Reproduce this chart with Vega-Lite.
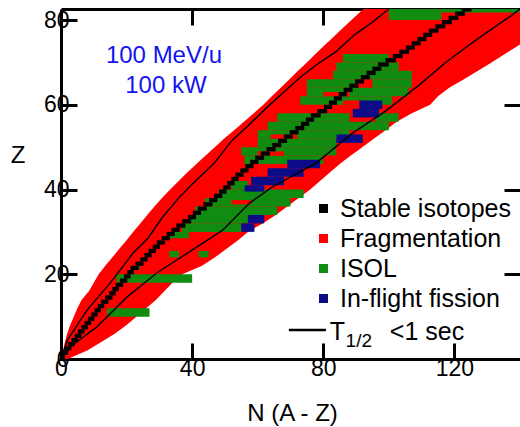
{
  "$schema": "https://vega.github.io/schema/vega-lite/v6.json",
  "width": 459,
  "height": 350,
  "autosize": "none",
  "padding": {"left": 61, "top": 9, "right": 0, "bottom": 68},
  "background": "white",
  "config": {
    "view": {"stroke": null},
    "font": "Liberation Sans",
    "axis": {
      "grid": false,
      "domainColor": "black",
      "domainWidth": 3,
      "tickColor": "black",
      "tickWidth": 3,
      "tickSize": -16,
      "labelFlush": false,
      "labelFont": "Liberation Sans",
      "labelFontSize": 23,
      "labelColor": "black",
      "titleFont": "Liberation Sans",
      "titleFontSize": 24,
      "titleFontWeight": "normal",
      "titleColor": "black"
    },
    "legend": {
      "labelFont": "Liberation Sans",
      "labelFontSize": 25,
      "labelColor": "black",
      "labelLimit": 400
    }
  },
  "resolve": {"axis": {"x": "independent", "y": "independent"}},
  "datasets": {
    "envelope": [
      {"z": 0, "nl": 0, "nr": 2},
      {"z": 2, "nl": 0.6, "nr": 8},
      {"z": 4, "nl": 1.2, "nr": 12.3},
      {"z": 6, "nl": 1.9, "nr": 16.5},
      {"z": 8, "nl": 2.8, "nr": 20},
      {"z": 10, "nl": 3.9, "nr": 23},
      {"z": 12, "nl": 5, "nr": 26},
      {"z": 14, "nl": 6.3, "nr": 29},
      {"z": 16, "nl": 8.5, "nr": 31.5},
      {"z": 18, "nl": 10, "nr": 34},
      {"z": 20, "nl": 11.5, "nr": 37},
      {"z": 22, "nl": 13.5, "nr": 43},
      {"z": 24, "nl": 15.7, "nr": 47},
      {"z": 26, "nl": 17.8, "nr": 50.5},
      {"z": 28, "nl": 20, "nr": 54},
      {"z": 30, "nl": 22, "nr": 57},
      {"z": 32, "nl": 24.2, "nr": 61.5},
      {"z": 34, "nl": 26.3, "nr": 65.5},
      {"z": 36, "nl": 28.5, "nr": 69},
      {"z": 38, "nl": 30.8, "nr": 72.5},
      {"z": 40, "nl": 33.3, "nr": 76},
      {"z": 42, "nl": 35.9, "nr": 79},
      {"z": 44, "nl": 38.5, "nr": 82},
      {"z": 46, "nl": 41.3, "nr": 85},
      {"z": 48, "nl": 44.1, "nr": 88.4},
      {"z": 50, "nl": 46.9, "nr": 91.9},
      {"z": 52, "nl": 49.7, "nr": 95.4},
      {"z": 54, "nl": 52.8, "nr": 99},
      {"z": 56, "nl": 55.8, "nr": 102.4},
      {"z": 58, "nl": 58.8, "nr": 107},
      {"z": 60, "nl": 61.7, "nr": 112.6},
      {"z": 62, "nl": 64.3, "nr": 115},
      {"z": 64, "nl": 67, "nr": 118.4},
      {"z": 66, "nl": 69.7, "nr": 122.9},
      {"z": 68, "nl": 72.3, "nr": 127.2},
      {"z": 70, "nl": 75, "nr": 131.3},
      {"z": 72, "nl": 77.6, "nr": 135.4},
      {"z": 74, "nl": 80.3, "nr": 139.5},
      {"z": 76, "nl": 83.1, "nr": 143.5},
      {"z": 78, "nl": 85.8, "nr": 147},
      {"z": 80, "nl": 88.6, "nr": 150},
      {"z": 82, "nl": 91.4, "nr": 153},
      {"z": 83, "nl": 92.8, "nr": 155}
    ],
    "cells": [
      {"z0": 10, "z1": 12, "n0": 14, "n1": 27, "kind": "ISOL"},
      {"z0": 18, "z1": 20, "n0": 17, "n1": 40, "kind": "ISOL"},
      {"z0": 21, "z1": 22, "n0": 22.5, "n1": 24, "kind": "ISOL"},
      {"z0": 24, "z1": 25.5, "n0": 33, "n1": 36, "kind": "ISOL"},
      {"z0": 24, "z1": 25.5, "n0": 42, "n1": 45, "kind": "ISOL"},
      {"z0": 28.5, "z1": 30, "n0": 33, "n1": 39, "kind": "ISOL"},
      {"z0": 30, "z1": 32, "n0": 37, "n1": 55, "kind": "ISOL"},
      {"z0": 32, "z1": 34, "n0": 39, "n1": 57, "kind": "ISOL"},
      {"z0": 34, "z1": 36, "n0": 41, "n1": 66, "kind": "ISOL"},
      {"z0": 36, "z1": 38, "n0": 44, "n1": 70, "kind": "ISOL"},
      {"z0": 38, "z1": 40, "n0": 48, "n1": 74, "kind": "ISOL"},
      {"z0": 40, "z1": 42, "n0": 52, "n1": 57, "kind": "ISOL"},
      {"z0": 46, "z1": 48, "n0": 56, "n1": 80, "kind": "ISOL"},
      {"z0": 48, "z1": 50, "n0": 55, "n1": 84, "kind": "ISOL"},
      {"z0": 50, "z1": 52, "n0": 60, "n1": 84, "kind": "ISOL"},
      {"z0": 52, "z1": 54, "n0": 60, "n1": 88, "kind": "ISOL"},
      {"z0": 54, "z1": 56, "n0": 63, "n1": 100, "kind": "ISOL"},
      {"z0": 56, "z1": 58, "n0": 66, "n1": 88, "kind": "ISOL"},
      {"z0": 56, "z1": 58, "n0": 96, "n1": 103, "kind": "ISOL"},
      {"z0": 60, "z1": 62, "n0": 73, "n1": 101, "kind": "ISOL"},
      {"z0": 62, "z1": 64, "n0": 75, "n1": 106, "kind": "ISOL"},
      {"z0": 64, "z1": 66, "n0": 75, "n1": 90, "kind": "ISOL"},
      {"z0": 64, "z1": 66, "n0": 95, "n1": 107, "kind": "ISOL"},
      {"z0": 66, "z1": 68, "n0": 83, "n1": 107, "kind": "ISOL"},
      {"z0": 68, "z1": 70, "n0": 84, "n1": 103, "kind": "ISOL"},
      {"z0": 70, "z1": 72, "n0": 86, "n1": 100, "kind": "ISOL"},
      {"z0": 80, "z1": 83, "n0": 100, "n1": 116, "kind": "ISOL"},
      {"z0": 81.8, "z1": 83, "n0": 116, "n1": 140, "kind": "ISOL"},
      {"z0": 36.5, "z1": 37.5, "n0": 52, "n1": 58, "kind": "Fragmentation"},
      {"z0": 48, "z1": 49, "n0": 60, "n1": 68, "kind": "Fragmentation"},
      {"z0": 52, "z1": 53, "n0": 64, "n1": 72, "kind": "Fragmentation"},
      {"z0": 60, "z1": 61, "n0": 86, "n1": 92, "kind": "Fragmentation"},
      {"z0": 62, "z1": 63, "n0": 80, "n1": 88, "kind": "Fragmentation"},
      {"z0": 30, "z1": 32, "n0": 55, "n1": 59, "kind": "In-flight fission"},
      {"z0": 32, "z1": 34, "n0": 57, "n1": 62, "kind": "In-flight fission"},
      {"z0": 39.5, "z1": 41, "n0": 56, "n1": 62, "kind": "In-flight fission"},
      {"z0": 41, "z1": 43, "n0": 58, "n1": 68, "kind": "In-flight fission"},
      {"z0": 43, "z1": 45, "n0": 63, "n1": 74, "kind": "In-flight fission"},
      {"z0": 45, "z1": 47, "n0": 69, "n1": 79, "kind": "In-flight fission"},
      {"z0": 51, "z1": 53, "n0": 84, "n1": 92, "kind": "In-flight fission"},
      {"z0": 57, "z1": 59, "n0": 89, "n1": 97, "kind": "In-flight fission"},
      {"z0": 59, "z1": 61, "n0": 91, "n1": 98, "kind": "In-flight fission"},
      {"z0": 0, "z1": 1, "n0": 0, "n1": 1.2, "kind": "Stable isotopes"},
      {"z0": 1, "z1": 2, "n0": 0.2, "n1": 2.2, "kind": "Stable isotopes"},
      {"z0": 2, "z1": 3, "n0": 1.2, "n1": 3.2, "kind": "Stable isotopes"},
      {"z0": 3, "z1": 4, "n0": 2.2, "n1": 4.2, "kind": "Stable isotopes"},
      {"z0": 4, "z1": 5, "n0": 3.2, "n1": 5.2, "kind": "Stable isotopes"},
      {"z0": 5, "z1": 6, "n0": 4.2, "n1": 6.2, "kind": "Stable isotopes"},
      {"z0": 6, "z1": 7, "n0": 5.2, "n1": 7.2, "kind": "Stable isotopes"},
      {"z0": 7, "z1": 8, "n0": 6.2, "n1": 8.2, "kind": "Stable isotopes"},
      {"z0": 8, "z1": 9, "n0": 7.2, "n1": 9.2, "kind": "Stable isotopes"},
      {"z0": 9, "z1": 10, "n0": 8.2, "n1": 10.2, "kind": "Stable isotopes"},
      {"z0": 10, "z1": 11, "n0": 9.2, "n1": 11.2, "kind": "Stable isotopes"},
      {"z0": 11, "z1": 12, "n0": 10.2, "n1": 12.2, "kind": "Stable isotopes"},
      {"z0": 12, "z1": 13, "n0": 11.2, "n1": 13.2, "kind": "Stable isotopes"},
      {"z0": 13, "z1": 14, "n0": 12.2, "n1": 14.45, "kind": "Stable isotopes"},
      {"z0": 14, "z1": 15, "n0": 13.45, "n1": 15.7, "kind": "Stable isotopes"},
      {"z0": 15, "z1": 16, "n0": 14.7, "n1": 16.7, "kind": "Stable isotopes"},
      {"z0": 16, "z1": 17, "n0": 15.7, "n1": 17.7, "kind": "Stable isotopes"},
      {"z0": 17, "z1": 18, "n0": 16.7, "n1": 18.95, "kind": "Stable isotopes"},
      {"z0": 18, "z1": 19, "n0": 17.95, "n1": 20.2, "kind": "Stable isotopes"},
      {"z0": 19, "z1": 20, "n0": 19.2, "n1": 21.2, "kind": "Stable isotopes"},
      {"z0": 20, "z1": 21, "n0": 20.2, "n1": 22.2, "kind": "Stable isotopes"},
      {"z0": 21, "z1": 22, "n0": 21.2, "n1": 23.7, "kind": "Stable isotopes"},
      {"z0": 22, "z1": 23, "n0": 22.7, "n1": 25.2, "kind": "Stable isotopes"},
      {"z0": 23, "z1": 24, "n0": 24.2, "n1": 26.45, "kind": "Stable isotopes"},
      {"z0": 24, "z1": 25, "n0": 25.45, "n1": 27.7, "kind": "Stable isotopes"},
      {"z0": 25, "z1": 26, "n0": 26.7, "n1": 28.95, "kind": "Stable isotopes"},
      {"z0": 26, "z1": 27, "n0": 27.95, "n1": 30.2, "kind": "Stable isotopes"},
      {"z0": 27, "z1": 28, "n0": 29.2, "n1": 31.7, "kind": "Stable isotopes"},
      {"z0": 28, "z1": 29, "n0": 30.7, "n1": 33.2, "kind": "Stable isotopes"},
      {"z0": 29, "z1": 30, "n0": 32.2, "n1": 34.7, "kind": "Stable isotopes"},
      {"z0": 30, "z1": 31, "n0": 33.7, "n1": 36.2, "kind": "Stable isotopes"},
      {"z0": 31, "z1": 32, "n0": 35.2, "n1": 37.95, "kind": "Stable isotopes"},
      {"z0": 32, "z1": 33, "n0": 36.95, "n1": 39.7, "kind": "Stable isotopes"},
      {"z0": 33, "z1": 34, "n0": 38.7, "n1": 41.2, "kind": "Stable isotopes"},
      {"z0": 34, "z1": 35, "n0": 40.2, "n1": 42.7, "kind": "Stable isotopes"},
      {"z0": 35, "z1": 36, "n0": 41.7, "n1": 44.45, "kind": "Stable isotopes"},
      {"z0": 36, "z1": 37, "n0": 43.45, "n1": 46.2, "kind": "Stable isotopes"},
      {"z0": 37, "z1": 38, "n0": 45.2, "n1": 47.7, "kind": "Stable isotopes"},
      {"z0": 38, "z1": 39, "n0": 46.7, "n1": 49.2, "kind": "Stable isotopes"},
      {"z0": 39, "z1": 40, "n0": 48.2, "n1": 50.45, "kind": "Stable isotopes"},
      {"z0": 40, "z1": 41, "n0": 49.45, "n1": 51.7, "kind": "Stable isotopes"},
      {"z0": 41, "z1": 42, "n0": 50.7, "n1": 52.95, "kind": "Stable isotopes"},
      {"z0": 42, "z1": 43, "n0": 51.95, "n1": 54.2, "kind": "Stable isotopes"},
      {"z0": 43, "z1": 44, "n0": 53.2, "n1": 55.7, "kind": "Stable isotopes"},
      {"z0": 44, "z1": 45, "n0": 54.7, "n1": 57.2, "kind": "Stable isotopes"},
      {"z0": 45, "z1": 46, "n0": 56.2, "n1": 58.7, "kind": "Stable isotopes"},
      {"z0": 46, "z1": 47, "n0": 57.7, "n1": 60.2, "kind": "Stable isotopes"},
      {"z0": 47, "z1": 48, "n0": 59.2, "n1": 61.95, "kind": "Stable isotopes"},
      {"z0": 48, "z1": 49, "n0": 60.95, "n1": 63.7, "kind": "Stable isotopes"},
      {"z0": 49, "z1": 50, "n0": 62.7, "n1": 65.45, "kind": "Stable isotopes"},
      {"z0": 50, "z1": 51, "n0": 64.45, "n1": 67.2, "kind": "Stable isotopes"},
      {"z0": 51, "z1": 52, "n0": 66.2, "n1": 68.95, "kind": "Stable isotopes"},
      {"z0": 52, "z1": 53, "n0": 67.95, "n1": 70.7, "kind": "Stable isotopes"},
      {"z0": 53, "z1": 54, "n0": 69.7, "n1": 72.45, "kind": "Stable isotopes"},
      {"z0": 54, "z1": 55, "n0": 71.45, "n1": 74.2, "kind": "Stable isotopes"},
      {"z0": 55, "z1": 56, "n0": 73.2, "n1": 75.7, "kind": "Stable isotopes"},
      {"z0": 56, "z1": 57, "n0": 74.7, "n1": 77.2, "kind": "Stable isotopes"},
      {"z0": 57, "z1": 58, "n0": 76.2, "n1": 79.2, "kind": "Stable isotopes"},
      {"z0": 58, "z1": 59, "n0": 78.2, "n1": 81.2, "kind": "Stable isotopes"},
      {"z0": 59, "z1": 60, "n0": 80.2, "n1": 82.7, "kind": "Stable isotopes"},
      {"z0": 60, "z1": 61, "n0": 81.7, "n1": 84.2, "kind": "Stable isotopes"},
      {"z0": 61, "z1": 62, "n0": 83.2, "n1": 85.7, "kind": "Stable isotopes"},
      {"z0": 62, "z1": 63, "n0": 84.7, "n1": 87.2, "kind": "Stable isotopes"},
      {"z0": 63, "z1": 64, "n0": 86.2, "n1": 88.95, "kind": "Stable isotopes"},
      {"z0": 64, "z1": 65, "n0": 87.95, "n1": 90.7, "kind": "Stable isotopes"},
      {"z0": 65, "z1": 66, "n0": 89.7, "n1": 92.45, "kind": "Stable isotopes"},
      {"z0": 66, "z1": 67, "n0": 91.45, "n1": 94.2, "kind": "Stable isotopes"},
      {"z0": 67, "z1": 68, "n0": 93.2, "n1": 95.95, "kind": "Stable isotopes"},
      {"z0": 68, "z1": 69, "n0": 94.95, "n1": 97.7, "kind": "Stable isotopes"},
      {"z0": 69, "z1": 70, "n0": 96.7, "n1": 99.95, "kind": "Stable isotopes"},
      {"z0": 70, "z1": 71, "n0": 98.95, "n1": 102.2, "kind": "Stable isotopes"},
      {"z0": 71, "z1": 72, "n0": 101.2, "n1": 104.2, "kind": "Stable isotopes"},
      {"z0": 72, "z1": 73, "n0": 103.2, "n1": 106.2, "kind": "Stable isotopes"},
      {"z0": 73, "z1": 74, "n0": 105.2, "n1": 107.95, "kind": "Stable isotopes"},
      {"z0": 74, "z1": 75, "n0": 106.95, "n1": 109.7, "kind": "Stable isotopes"},
      {"z0": 75, "z1": 76, "n0": 108.7, "n1": 111.45, "kind": "Stable isotopes"},
      {"z0": 76, "z1": 77, "n0": 110.45, "n1": 113.2, "kind": "Stable isotopes"},
      {"z0": 77, "z1": 78, "n0": 112.2, "n1": 115.2, "kind": "Stable isotopes"},
      {"z0": 78, "z1": 79, "n0": 114.2, "n1": 117.2, "kind": "Stable isotopes"},
      {"z0": 79, "z1": 80, "n0": 116.2, "n1": 119.2, "kind": "Stable isotopes"},
      {"z0": 80, "z1": 81, "n0": 118.2, "n1": 121.2, "kind": "Stable isotopes"},
      {"z0": 81, "z1": 82, "n0": 120.2, "n1": 123.2, "kind": "Stable isotopes"},
      {"z0": 82, "z1": 83, "n0": 122.2, "n1": 125.2, "kind": "Stable isotopes"}
    ],
    "halflife": [
      {"side": "proton-rich", "z": 0, "n": 0},
      {"side": "proton-rich", "z": 4.5, "n": 2},
      {"side": "proton-rich", "z": 11.6, "n": 8},
      {"side": "proton-rich", "z": 17.9, "n": 15},
      {"side": "proton-rich", "z": 25, "n": 22},
      {"side": "proton-rich", "z": 28.5, "n": 26.5},
      {"side": "proton-rich", "z": 33.5, "n": 31},
      {"side": "proton-rich", "z": 38.5, "n": 36.5},
      {"side": "proton-rich", "z": 42, "n": 41},
      {"side": "proton-rich", "z": 46, "n": 46.5},
      {"side": "proton-rich", "z": 51.7, "n": 52.3},
      {"side": "proton-rich", "z": 55, "n": 57},
      {"side": "proton-rich", "z": 59.5, "n": 63},
      {"side": "proton-rich", "z": 63, "n": 68},
      {"side": "proton-rich", "z": 66.5, "n": 73},
      {"side": "proton-rich", "z": 69.9, "n": 78.8},
      {"side": "proton-rich", "z": 72.6, "n": 84},
      {"side": "proton-rich", "z": 76.5, "n": 89.5},
      {"side": "proton-rich", "z": 79.5, "n": 95},
      {"side": "proton-rich", "z": 82.6, "n": 100},
      {"side": "neutron-rich", "z": 0, "n": 0},
      {"side": "neutron-rich", "z": 2.8, "n": 2.7},
      {"side": "neutron-rich", "z": 7.6, "n": 11},
      {"side": "neutron-rich", "z": 14.6, "n": 20.1},
      {"side": "neutron-rich", "z": 20.3, "n": 29.2},
      {"side": "neutron-rich", "z": 26.4, "n": 41.4},
      {"side": "neutron-rich", "z": 30.4, "n": 49.3},
      {"side": "neutron-rich", "z": 36.8, "n": 57.5},
      {"side": "neutron-rich", "z": 40.6, "n": 64.5},
      {"side": "neutron-rich", "z": 46.3, "n": 77.9},
      {"side": "neutron-rich", "z": 53.3, "n": 88.9},
      {"side": "neutron-rich", "z": 58.5, "n": 99},
      {"side": "neutron-rich", "z": 64.7, "n": 109.3},
      {"side": "neutron-rich", "z": 70.1, "n": 117.5},
      {"side": "neutron-rich", "z": 75.8, "n": 127.5},
      {"side": "neutron-rich", "z": 81.2, "n": 137.6},
      {"side": "neutron-rich", "z": 82.6, "n": 140}
    ]
  },
  "layer": [
    {
      "data": {"name": "envelope"},
      "mark": {"type": "area", "orient": "horizontal", "color": "#ff0000", "clip": true},
      "encoding": {
        "y": {
          "field": "z", "type": "quantitative",
          "scale": {"domain": [0, 82.6], "nice": false, "zero": false},
          "axis": {"orient": "left", "values": [0, 20, 40, 60, 80], "labelPadding": 8,
                   "title": "Z", "titleAngle": 0, "titleX": -43.5, "titleY": 146,
                   "titleAlign": "center", "titleBaseline": "middle"}
        },
        "x": {
          "field": "nl", "type": "quantitative",
          "scale": {"domain": [0, 140], "nice": false, "zero": false},
          "axis": {"orient": "bottom", "values": [0, 40, 80, 120], "labelPadding": 14,
                   "title": "N (A - Z)", "titleX": 231, "titleY": 61,
                   "titleAlign": "center", "titleBaseline": "alphabetic"}
        },
        "x2": {"field": "nr"}
      }
    },
    {
      "data": {"name": "cells"},
      "mark": {"type": "rect", "clip": true},
      "encoding": {
        "x": {"field": "n0", "type": "quantitative", "scale": {"domain": [0, 140], "nice": false, "zero": false}, "axis": null},
        "x2": {"field": "n1"},
        "y": {"field": "z0", "type": "quantitative", "scale": {"domain": [0, 82.6], "nice": false, "zero": false}, "axis": null},
        "y2": {"field": "z1"},
        "color": {
          "field": "kind", "type": "nominal",
          "scale": {
            "domain": ["Stable isotopes", "Fragmentation", "ISOL", "In-flight fission"],
            "range": ["#000000", "#ff0000", "#108c10", "#0c0c88"]
          },
          "legend": {
            "orient": "none", "legendX": 250, "legendY": 187, "title": null,
            "symbolType": "square", "symbolSize": 81, "symbolStrokeWidth": 0,
            "rowPadding": 4, "labelOffset": 4, "padding": 0
          }
        }
      }
    },
    {
      "data": {"name": "halflife"},
      "mark": {"type": "line", "color": "black", "strokeWidth": 1.4, "clip": true},
      "encoding": {
        "x": {
          "field": "n", "type": "quantitative",
          "scale": {"domain": [0, 140], "nice": false, "zero": false},
          "axis": {"orient": "top", "values": [40, 80, 120], "labels": false, "title": null}
        },
        "y": {
          "field": "z", "type": "quantitative",
          "scale": {"domain": [0, 82.6], "nice": false, "zero": false},
          "axis": {"orient": "right", "values": [20, 40, 60, 80], "labels": false, "title": null, "domain": false}
        },
        "detail": {"field": "side", "type": "nominal"},
        "order": {"field": "z", "type": "quantitative"}
      }
    },
    {
      "data": {"values": [{}]},
      "mark": {"type": "rule", "color": "black", "strokeWidth": 2.5},
      "encoding": {
        "x": {"datum": 69.5, "type": "quantitative", "axis": null},
        "x2": {"datum": 80.8},
        "y": {"datum": 6.84, "type": "quantitative", "axis": null}
      }
    },
    {
      "data": {"values": [{}]},
      "mark": {"type": "text", "text": "T", "fontSize": 25, "align": "left", "baseline": "alphabetic", "color": "black"},
      "encoding": {
        "x": {"datum": 82, "type": "quantitative", "axis": null},
        "y": {"datum": 4.48, "type": "quantitative", "axis": null}
      }
    },
    {
      "data": {"values": [{}]},
      "mark": {"type": "text", "text": "1/2", "fontSize": 19, "align": "left", "baseline": "alphabetic", "color": "black"},
      "encoding": {
        "x": {"datum": 86.8, "type": "quantitative", "axis": null},
        "y": {"datum": 2.83, "type": "quantitative", "axis": null}
      }
    },
    {
      "data": {"values": [{}]},
      "mark": {"type": "text", "text": "<1 sec", "fontSize": 25, "align": "left", "baseline": "alphabetic", "color": "black"},
      "encoding": {
        "x": {"datum": 100.3, "type": "quantitative", "axis": null},
        "y": {"datum": 4.48, "type": "quantitative", "axis": null}
      }
    },
    {
      "data": {"values": [{}]},
      "mark": {"type": "text", "text": "100 MeV/u", "fontSize": 24, "align": "center", "baseline": "alphabetic", "color": "#1414f0"},
      "encoding": {
        "x": {"datum": 31.4, "type": "quantitative", "axis": null},
        "y": {"datum": 69.85, "type": "quantitative", "axis": null}
      }
    },
    {
      "data": {"values": [{}]},
      "mark": {"type": "text", "text": "100 kW", "fontSize": 24, "align": "center", "baseline": "alphabetic", "color": "#1414f0"},
      "encoding": {
        "x": {"datum": 32, "type": "quantitative", "axis": null},
        "y": {"datum": 62.8, "type": "quantitative", "axis": null}
      }
    }
  ]
}
